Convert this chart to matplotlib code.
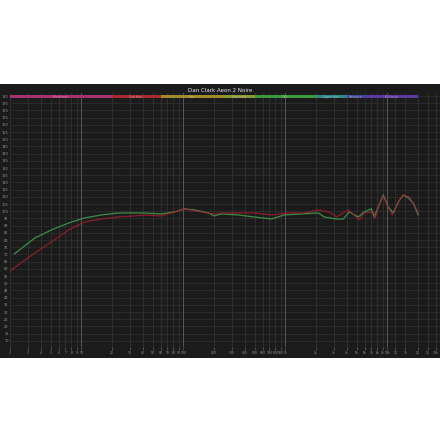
import matplotlib.pyplot as plt
import numpy as np

green_freq = [2.2, 3.5, 5.1, 7.5, 10.7, 15.7, 23, 33, 41.5, 61, 82, 102, 128, 176, 201, 236,
              346, 497, 730, 977, 1435, 2107, 2412, 3160, 3706, 4240, 5200, 5950, 6970, 7460,
              8160, 9140, 10230, 11460, 12820, 14360, 16080, 17990, 20140]
green_db = [70.3, 81.4, 87.0, 91.8, 95.3, 97.4, 98.8, 98.8, 98.8, 98.1, 99.5, 101.6, 100.9, 98.8, 96.7, 98.1,
            97.4, 96.0, 94.6, 97.4, 98.1, 98.8, 96.0, 94.6, 94.6, 99.5, 96.0, 99.5, 101.6, 96.0,
            102.9, 111.3, 102.9, 98.8, 106.4, 111.3, 109.2, 105.7, 97.4]

red_freq = [2.0, 3.5, 5.1, 7.5, 10.7, 15.7, 23, 33, 41.5, 61, 82, 102, 150, 201, 236,
            346, 497, 730, 1069, 1536, 2107, 2640, 3020, 3160, 4150, 5310, 5950, 7290, 7630,
            8160, 9140, 10230, 11200, 12820, 14360, 16450, 18400, 20140]
red_db = [58.5, 71.0, 78.7, 87.0, 92.5, 94.6, 96.0, 96.7, 97.4, 96.7, 99.5, 101.6, 99.5, 98.1, 98.8,
          98.8, 98.8, 97.4, 98.8, 98.8, 100.9, 99.5, 97.4, 96.0, 100.9, 93.9, 98.8, 99.5, 95.3,
          102.9, 110.6, 102.9, 97.4, 106.4, 111.3, 109.9, 104.3, 98.8]

# Frequency bands across the top
band_names = ["Infrasound", "Sub bass", "Bass", "Low mids", "Mid", "Upper mid", "Presence", "Brilliance"]
band_edges = [2, 20, 60, 250, 500, 2000, 4000, 6000, 20000]
band_colors = ['#a8306c', '#a82a30', '#a08a2c', '#8c9a32', '#3c9a3c', '#2e8a8a', '#3e4ca0', '#5a3aa0']

# Axis ticks
y_ticks = list(range(10, 185, 5))
x_ticks = [2, 3, 4, 5, 6, 7, 8, 9, 10, 20, 30, 40, 50, 60, 70, 80, 90, 100,
           200, 300, 400, 500, 600, 700, 800, 900, 1000, 2000, 3000, 4000, 5000, 6000,
           7000, 8000, 9000, 10000, 12000, 15000, 20000, 25000, 30000]
x_labels = ["2", "3", "4", "5", "6", "7", "8", "9", "10", "20", "30", "40", "50", "60", "70", "80", "90", "100",
            "200", "300", "400", "500", "600", "700", "800", "900", "1k", "2k", "3k", "4k", "5k", "6k",
            "7k", "8k", "9k", "10k", "12", "15", "20", "25", "30k"]

BG = '#1b1b1b'

fig = plt.figure(figsize=(4.4, 4.4), dpi=100)
fig.patch.set_facecolor('white')

# dark panel behind everything
panel = fig.add_axes([0, 82 / 440, 1, 274 / 440])
panel.set_facecolor(BG)
panel.set_xticks([])
panel.set_yticks([])
for s in panel.spines.values():
    s.set_visible(False)

ax = fig.add_axes([10 / 440, 93 / 440, 430 / 440, 254 / 440])
ax.set_facecolor(BG)
ax.set_xscale('log')
ax.set_xlim(2.0, 32900)
ax.set_ylim(5.7, 182.1)

# grid
for y in y_ticks:
    ax.axhline(y, color='#2e2e2e', lw=0.6, zorder=0)
for f in x_ticks:
    major = f in (10, 100, 1000, 10000)
    ax.axvline(f, color='#585858' if major else '#323232', lw=0.7 if major else 0.6, zorder=0)

# band strip
trans = ax.get_xaxis_transform()
for i, name in enumerate(band_names):
    lo, hi = band_edges[i], band_edges[i + 1]
    ax.fill_between([lo, hi], 0.980, 0.992, transform=trans, color=band_colors[i], lw=0, zorder=2)
    ax.text(np.sqrt(lo * hi), 0.986, name, transform=trans, fontsize=2.2, color='#e0c8d8',
            ha='center', va='center', alpha=0.6, zorder=3)

ax.semilogx(green_freq, green_db, color='#3f9a4c', lw=0.9, alpha=0.9, zorder=4)
ax.semilogx(red_freq, red_db, color='#b01c2e', lw=0.9, alpha=0.75, zorder=5)

ax.set_yticks(y_ticks)
ax.set_yticklabels([str(v) for v in y_ticks])
ax.set_xticks(x_ticks)
ax.set_xticklabels(x_labels)
ax.minorticks_off()
ax.tick_params(axis='y', length=0, pad=1, labelsize=2.5, labelcolor='#9a9a9a')
ax.tick_params(axis='x', length=2, width=0.4, color='#777777', pad=1, labelsize=2.2, labelcolor='#9a9a9a')
for s in ax.spines.values():
    s.set_visible(False)

fig.text(0.5, 1 - 90 / 440, "Dan Clark Aeon 2 Noire", ha='center', va='center', fontsize=4, color='#e8e8e8')

plt.savefig('out.png', dpi=100, facecolor='white')
